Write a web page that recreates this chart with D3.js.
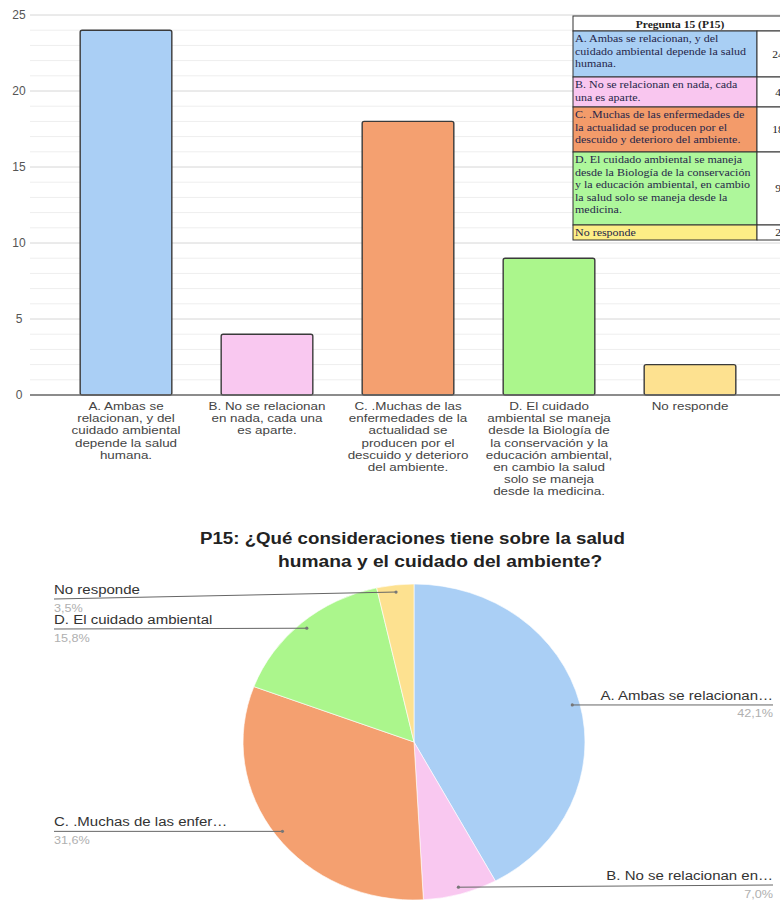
<!DOCTYPE html>
<html>
<head>
<meta charset="utf-8">
<script src="https://cdn.jsdelivr.net/npm/d3@7"></script>
<style>
  html, body { margin: 0; padding: 0; background: #fff; }
  svg { display: block; font-family: "Liberation Sans", Arial, sans-serif; }
</style>
</head>
<body>
<svg id="chart" width="780" height="901"></svg>
<script>
// P15 responses
const categories = [
  "A. Ambas se relacionan, y del cuidado ambiental depende la salud humana.",
  "B. No se relacionan en nada, cada una es aparte.",
  "C. .Muchas de las enfermedades de la actualidad se producen por el descuido y deterioro del ambiente.",
  "D. El cuidado ambiental se maneja desde la Biología de la conservación y la educación ambiental, en cambio la salud solo se maneja desde la medicina.",
  "No responde"
];
const counts = [24, 4, 18, 9, 2];
const colors = ["#aacff5", "#f9c8f0", "#f4a070", "#abf68c", "#fde190"];
const tableColors = ["#a9cff4", "#f9c6ef", "#f39b6a", "#aef79b", "#fdee86"];

// wrapped axis labels under each bar
const axisLabelLines = [
  ["A. Ambas se", "relacionan, y del", "cuidado ambiental", "depende la salud", "humana."],
  ["B. No se relacionan", "en nada, cada una", "es aparte."],
  ["C. .Muchas de las", "enfermedades de la", "actualidad se", "producen por el", "descuido y deterioro", "del ambiente."],
  ["D. El cuidado", "ambiental se maneja", "desde la Biología de", "la conservación y la", "educación ambiental,", "en cambio la salud", "solo se maneja", "desde la medicina."],
  ["No responde"]
];
// wrapped text inside the summary table
const tableLines = [
  ["A. Ambas se relacionan, y del", "cuidado ambiental depende la salud", "humana."],
  ["B. No se relacionan en nada, cada", "una es aparte."],
  ["C. .Muchas de las enfermedades de", "la actualidad se producen por el", "descuido y deterioro del ambiente."],
  ["D. El cuidado ambiental se maneja", "desde la Biología de la conservación", "y la educación ambiental, en cambio", "la salud solo se maneja desde la", "medicina."],
  ["No responde"]
];
const tableTitle = "Pregunta 15 (P15)";
// short names shown next to the pie
const pieNames = ["A. Ambas se relacionan…", "B. No se relacionan en…", "C. .Muchas de las enfer…", "D. El cuidado ambiental", "No responde"];
const pieTitle = ["P15: ¿Qué consideraciones tiene sobre la salud", "humana y el cuidado del ambiente?"];
const yTicks = [0, 5, 10, 15, 20, 25];

const svg = d3.select("#chart");

// ---------- bar chart ----------
const y = d3.scaleLinear().domain([0, 25]).range([395, 15]);
const x = d3.scaleBand().domain(d3.range(categories.length))
  .range([55.5, 760.5]).paddingInner(0.35).paddingOuter(0.175);

const grid = svg.append("g");
grid.selectAll("line.minor").data(d3.range(0, 26).filter(v => v % 5 !== 0))
  .join("line").attr("class", "minor")
  .attr("x1", 30).attr("x2", 780)
  .attr("y1", d => y(d)).attr("y2", d => y(d))
  .attr("stroke", "#eeeeee").attr("stroke-width", 1);
grid.selectAll("line.major").data(yTicks.filter(v => v > 0))
  .join("line").attr("class", "major")
  .attr("x1", 30).attr("x2", 780)
  .attr("y1", d => y(d)).attr("y2", d => y(d))
  .attr("stroke", "#d6d6d6").attr("stroke-width", 1);

const yAxis = d3.axisLeft(y).tickValues(yTicks).tickSize(0).tickPadding(0);
const ya = svg.append("g").attr("transform", "translate(19,0)").call(yAxis);
ya.select(".domain").remove();
ya.selectAll("text").attr("text-anchor", "middle").attr("fill", "#555")
  .style("font-size", "12px").style("font-family", "'Liberation Sans', Arial, sans-serif");

svg.selectAll("rect.bar").data(counts).join("rect").attr("class", "bar")
  .attr("x", (d, i) => x(i)).attr("width", x.bandwidth())
  .attr("y", d => y(d)).attr("height", d => y(0) - y(d))
  .attr("rx", 2)
  .attr("fill", (d, i) => colors[i]).attr("stroke", "#3a3a3a").attr("stroke-width", 1.4);

svg.append("line").attr("x1", 30).attr("x2", 780).attr("y1", y(0)).attr("y2", y(0))
  .attr("stroke", "#666").attr("stroke-width", 1.3);

// stretched text helper
function wideText(g, str, px, py, size, sx, anchor, fill, weight) {
  return g.append("text")
    .attr("transform", `translate(${px},${py}) scale(${sx},1)`)
    .attr("text-anchor", anchor).attr("fill", fill)
    .style("font-size", size + "px").style("font-weight", weight || "normal")
    .text(str);
}

const xl = svg.append("g");
axisLabelLines.forEach((lines, i) => {
  const cx = x(i) + x.bandwidth() / 2;
  lines.forEach((ln, j) => wideText(xl, ln, cx, 410 + j * 12.2, 11, 1.22, "middle", "#444"));
});

// ---------- summary table ----------
const tb = svg.append("g").style("font-family", "'Liberation Serif', 'Times New Roman', serif");
const tLeft = 573, tDiv = 757, tRight = 790;
const rowTops = [31, 77, 107, 152, 225, 240];
tb.append("rect").attr("x", tLeft).attr("y", 16).attr("width", tRight - tLeft).attr("height", 15)
  .attr("fill", "#fff").attr("stroke", "#333").attr("stroke-width", 1);
wideText(tb, tableTitle, 680, 27.5, 10, 1.15, "middle", "#222", "bold");
counts.forEach((c, i) => {
  const top = rowTops[i], bot = rowTops[i + 1];
  tb.append("rect").attr("x", tLeft).attr("y", top).attr("width", tDiv - tLeft).attr("height", bot - top)
    .attr("fill", tableColors[i]).attr("stroke", "#333").attr("stroke-width", 1);
  tb.append("rect").attr("x", tDiv).attr("y", top).attr("width", tRight - tDiv).attr("height", bot - top)
    .attr("fill", "#fff").attr("stroke", "#333").attr("stroke-width", 1);
  tableLines[i].forEach((ln, j) => {
    wideText(tb, ln, tLeft + 2, top + 11 + j * 12.6, 10, 1.2, "start", "#26264a");
  });
  wideText(tb, c, 778, (top + bot) / 2 + 3.5, 10, 1.15, "middle", "#222");
});

// ---------- pie chart ----------
const title = svg.append("g");
wideText(title, pieTitle[0], 200, 544, 17, 1.1, "start", "#222", "bold");
wideText(title, pieTitle[1], 278, 567, 17, 1.13, "start", "#222", "bold");

const cx = 414, cy = 742, R = 158, sx = 1.082;
const total = d3.sum(counts);
const arcs = d3.pie().sort(null).value(d => d)(counts);
const arc = d3.arc().innerRadius(0).outerRadius(R);
const pg = svg.append("g").attr("transform", `translate(${cx},${cy}) scale(${sx},1)`);
pg.selectAll("path").data(arcs).join("path")
  .attr("d", arc).attr("fill", (d, i) => colors[i])
  .attr("stroke", "#fff").attr("stroke-width", 0.6);

// leader lines and labels
const labels = arcs.map((a, i) => {
  const m = (a.startAngle + a.endAngle) / 2;
  const dx = cx + Math.sin(m) * 0.955 * R * sx;
  const dy = cy - Math.cos(m) * 0.955 * R;
  return { i, dx, dy, right: Math.sin(m) > 0, ly: dy };
});
// keep left labels below the title and apart from each other
const leftSide = labels.filter(l => !l.right).sort((a, b) => a.dy - b.dy);
let prev = 599 - 30;
leftSide.forEach(l => { l.ly = Math.max(l.dy, prev + 30); prev = l.ly; });
labels.filter(l => l.right).forEach(l => { l.ly = Math.min(l.dy, 885); });

const lg = svg.append("g");
labels.forEach(l => {
  const xEnd = l.right ? 773 : 54;
  lg.append("line").attr("x1", xEnd).attr("y1", l.ly).attr("x2", l.dx).attr("y2", l.dy)
    .attr("stroke", "#666").attr("stroke-width", 1);
  lg.append("circle").attr("cx", l.dx).attr("cy", l.dy).attr("r", 1.6).attr("fill", "#777");
  const anchor = l.right ? "end" : "start";
  wideText(lg, pieNames[l.i], xEnd, l.ly - 5, 12, 1.25, anchor, "#333");
  const pct = (counts[l.i] / total * 100).toFixed(1).replace(".", ",") + "%";
  wideText(lg, pct, xEnd, l.ly + 12.5, 11, 1.15, anchor, "#b0b0b0");
});
</script>
</body>
</html>
